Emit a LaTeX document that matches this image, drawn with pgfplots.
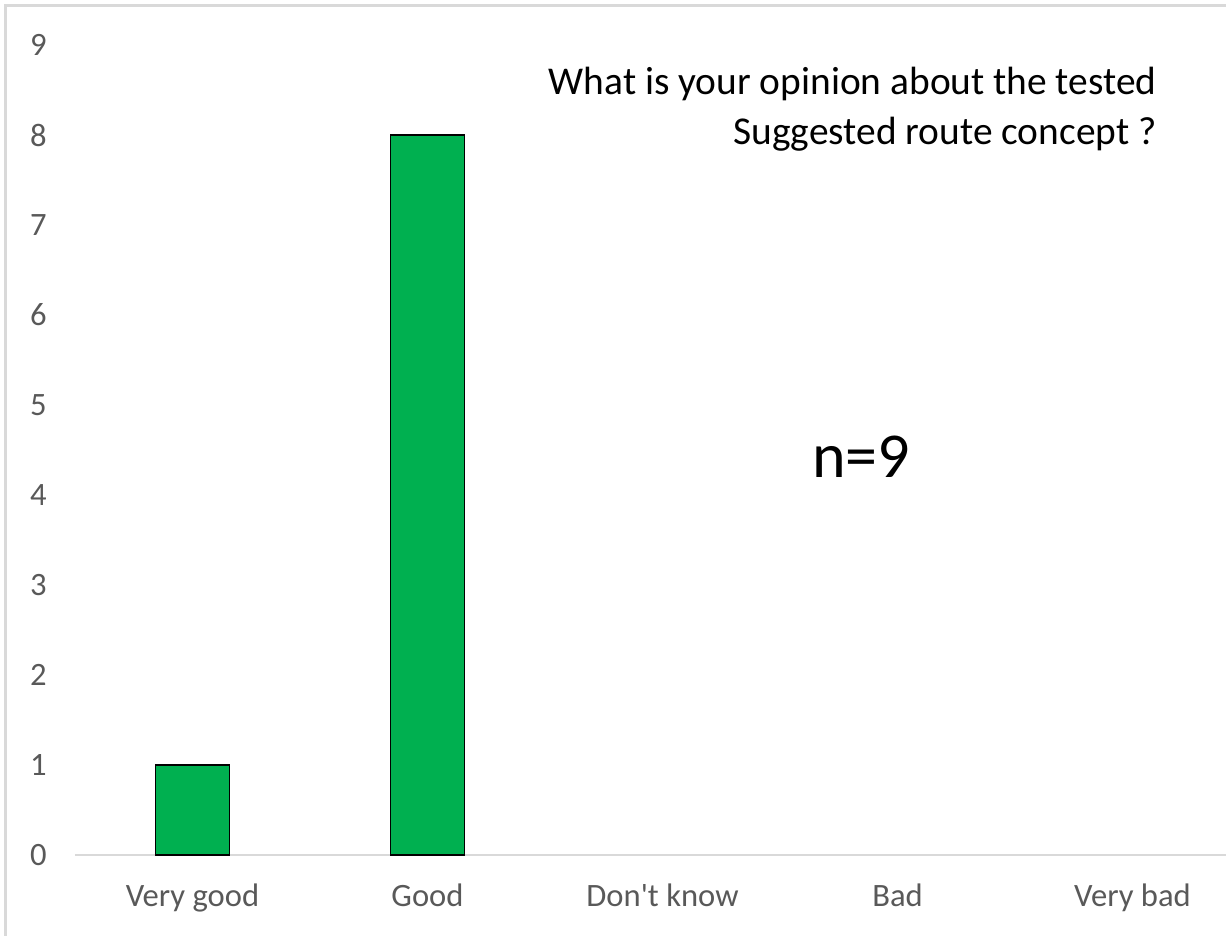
\documentclass[border=0pt]{standalone}
\usepackage{fontspec}
\setmainfont{Carlito}
\newfontfamily\plaincarlito{Carlito}
\usepackage{pgfplots}
\pgfplotsset{compat=1.18}
\definecolor{barGreen}{HTML}{00B050}
\definecolor{tickGray}{HTML}{595959}
\definecolor{lineGray}{HTML}{D9D9D9}
\begin{document}
\begin{tikzpicture}
\useasboundingbox (-37.5pt,-40.5pt) rectangle (575.5pt,427.5pt);
% outer frame (only top and left edges are visible)
\draw[lineGray, line width=1.5pt] (-34.75pt,-40.5pt) -- (-34.75pt,424.5pt) -- (575.5pt,424.5pt);
\begin{axis}[
    x=117.5pt, y=45pt,
    anchor=origin, at={(58.75pt,0pt)},
    ybar, bar width=37pt,
    xmin=-0.5, xmax=4.404, ymin=0, ymax=9,
    axis y line=none,
    axis x line*=bottom,
    x axis line style={lineGray, line width=0.75pt, -},
    xtick={0,1,2,3,4},
    xticklabels={Very good, Good, {\plaincarlito Don't know}, Bad, Very bad},
    major tick length=0pt,
    every tick label/.append style={font=\fontsize{16.3}{19}\selectfont, text=tickGray},
    xticklabel style={yshift=-11pt, text height=11pt, text depth=3.5pt},
    clip=false,
]
\addplot[fill=barGreen, draw=black, line width=0.6pt] coordinates {(0,1) (1,8)};
\end{axis}
% y tick labels (the y axis line itself is hidden)
\foreach \v in {0,...,9} {
  \node[anchor=east, text=tickGray, font=\fontsize{16.3}{19}\selectfont, inner sep=0pt] at (-14pt,\v*45pt) {\v};
}
\node[anchor=base east, font=\fontsize{19.7}{23}\selectfont, inner sep=0pt] at (541pt,380pt) {What is your opinion about the tested};
\node[anchor=base east, font=\fontsize{19.7}{23}\selectfont, inner sep=0pt] at (541pt,355pt) {Suggested route concept ?};
\node[anchor=base, font=\fontsize{32}{38}\selectfont, inner sep=0pt] at (393pt,188.5pt) {n=9};
\end{tikzpicture}
\end{document}
